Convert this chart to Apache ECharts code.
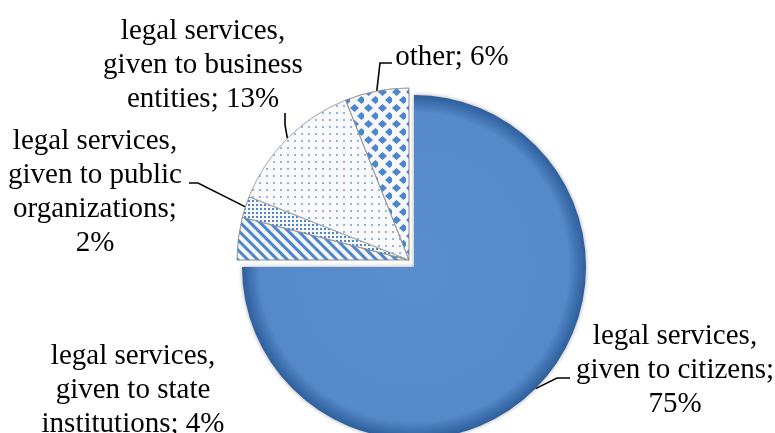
<!DOCTYPE html>
<html>
<head>
<meta charset="utf-8">
<script src="https://cdn.jsdelivr.net/npm/echarts@6/dist/echarts.min.js"></script>
<style>
  html, body { margin: 0; padding: 0; background: #fff; }
  #chart { width: 775px; height: 433px; }
</style>
</head>
<body>
<div id="chart"></div>
<script>
// data
var categories = [
  "legal services, given to citizens",
  "legal services, given to state institutions",
  "legal services, given to public organizations",
  "legal services, given to business entities",
  "other"
];
var values = [75, 4, 2, 13, 6];
// label text with line breaks, {v} = value
var labelTexts = [
  "legal services,\ngiven to citizens;\n{v}%",
  "legal services,\ngiven to state\ninstitutions; {v}%",
  "legal services,\ngiven to public\norganizations;\n{v}%",
  "legal services,\ngiven to business\nentities; {v}%",
  "other; {v}%"
];
// slice pulled out of the pie
var explodedIndex = 0;

var blue = "#4B86CF";

// label centers and leader line bends (px)
var labelPos = [[675, 370], [133, 390], [95, 192], [203, 65], [452, 57]];
var lineBends = [
  [[557, 378], [570, 378]],
  null,
  [[198, 183], [189, 183]],
  [[285, 125], [285, 113]],
  [[380, 63], [392, 63]]
];

var styles = [
  {
    color: {
      type: "radial", x: 0.5, y: 0.5, r: 0.5,
      colorStops: [
        { offset: 0, color: "#5A8ECE" },
        { offset: 0.9, color: "#5589C9" },
        { offset: 1, color: "#2E5E9C" }
      ]
    },
    shadowBlur: 4,
    shadowColor: "rgba(0,0,0,0.35)"
  },
  {
    color: "#F7F7F7",
    borderColor: "rgba(140,140,140,0.6)",
    borderWidth: 1,
    decal: { symbol: "rect", color: blue, dashArrayX: [1, 0], dashArrayY: [3, 4], rotation: Math.PI / 4 }
  },
  {
    color: "#F7F7F7",
    borderColor: "rgba(140,140,140,0.6)",
    borderWidth: 1,
    decal: { symbol: "rect", color: blue, dashArrayX: [2, 2], dashArrayY: [2, 2] }
  },
  {
    color: "#FAFAFA",
    borderColor: "rgba(160,160,160,0.6)",
    borderWidth: 1,
    decal: { symbol: "circle", color: "#6C9FDC", symbolSize: 1, dashArrayX: [2, 5], dashArrayY: [2, 5] }
  },
  {
    color: "#F7F7F7",
    borderColor: "rgba(140,140,140,0.6)",
    borderWidth: 1,
    decal: { symbol: "diamond", color: blue, dashArrayX: [[9, 5], [0, 7, 9, -2]], dashArrayY: [8, 0] }
  }
];

var myChart = echarts.init(document.getElementById("chart"));

// build data for one of the two pies: "own" slices are drawn, the rest kept as empty room
function buildData(own) {
  return categories.map(function (name, i) {
    var mine = own(i);
    return {
      name: name,
      value: values[i],
      itemStyle: mine ? styles[i] : { color: "rgba(0,0,0,0)", borderWidth: 0, decal: null },
      label: { show: mine },
      labelLine: { show: mine && lineBends[i] !== null },
      tooltip: { show: mine }
    };
  });
}

var commonSeries = {
  type: "pie",
  radius: 172,
  startAngle: 90,
  clockwise: true,
  avoidLabelOverlap: false,
  label: {
    position: "outside",
    fontFamily: "Liberation Serif",
    fontSize: 29,
    lineHeight: 34,
    color: "#000",
    align: "center",
    formatter: function (p) {
      return labelTexts[p.dataIndex].replace("{v}", p.value);
    }
  },
  labelLine: {
    lineStyle: { color: "#000", width: 1.6 }
  },
  emphasis: { disabled: true },
  labelLayout: function (params) {
    var i = params.dataIndex;
    var res = {
      x: labelPos[i][0],
      y: labelPos[i][1],
      align: "center",
      verticalAlign: "middle"
    };
    if (lineBends[i] && params.labelLinePoints) {
      res.labelLinePoints = [params.labelLinePoints[0], lineBends[i][0], lineBends[i][1]];
    }
    return res;
  }
};

var option = {
  animation: false,
  series: [
    Object.assign({}, commonSeries, {
      center: [409, 260],
      data: buildData(function (i) { return i !== explodedIndex; })
    }),
    Object.assign({}, commonSeries, {
      center: [414, 267],
      data: buildData(function (i) { return i === explodedIndex; })
    })
  ]
};
myChart.setOption(option);
</script>
</body>
</html>
